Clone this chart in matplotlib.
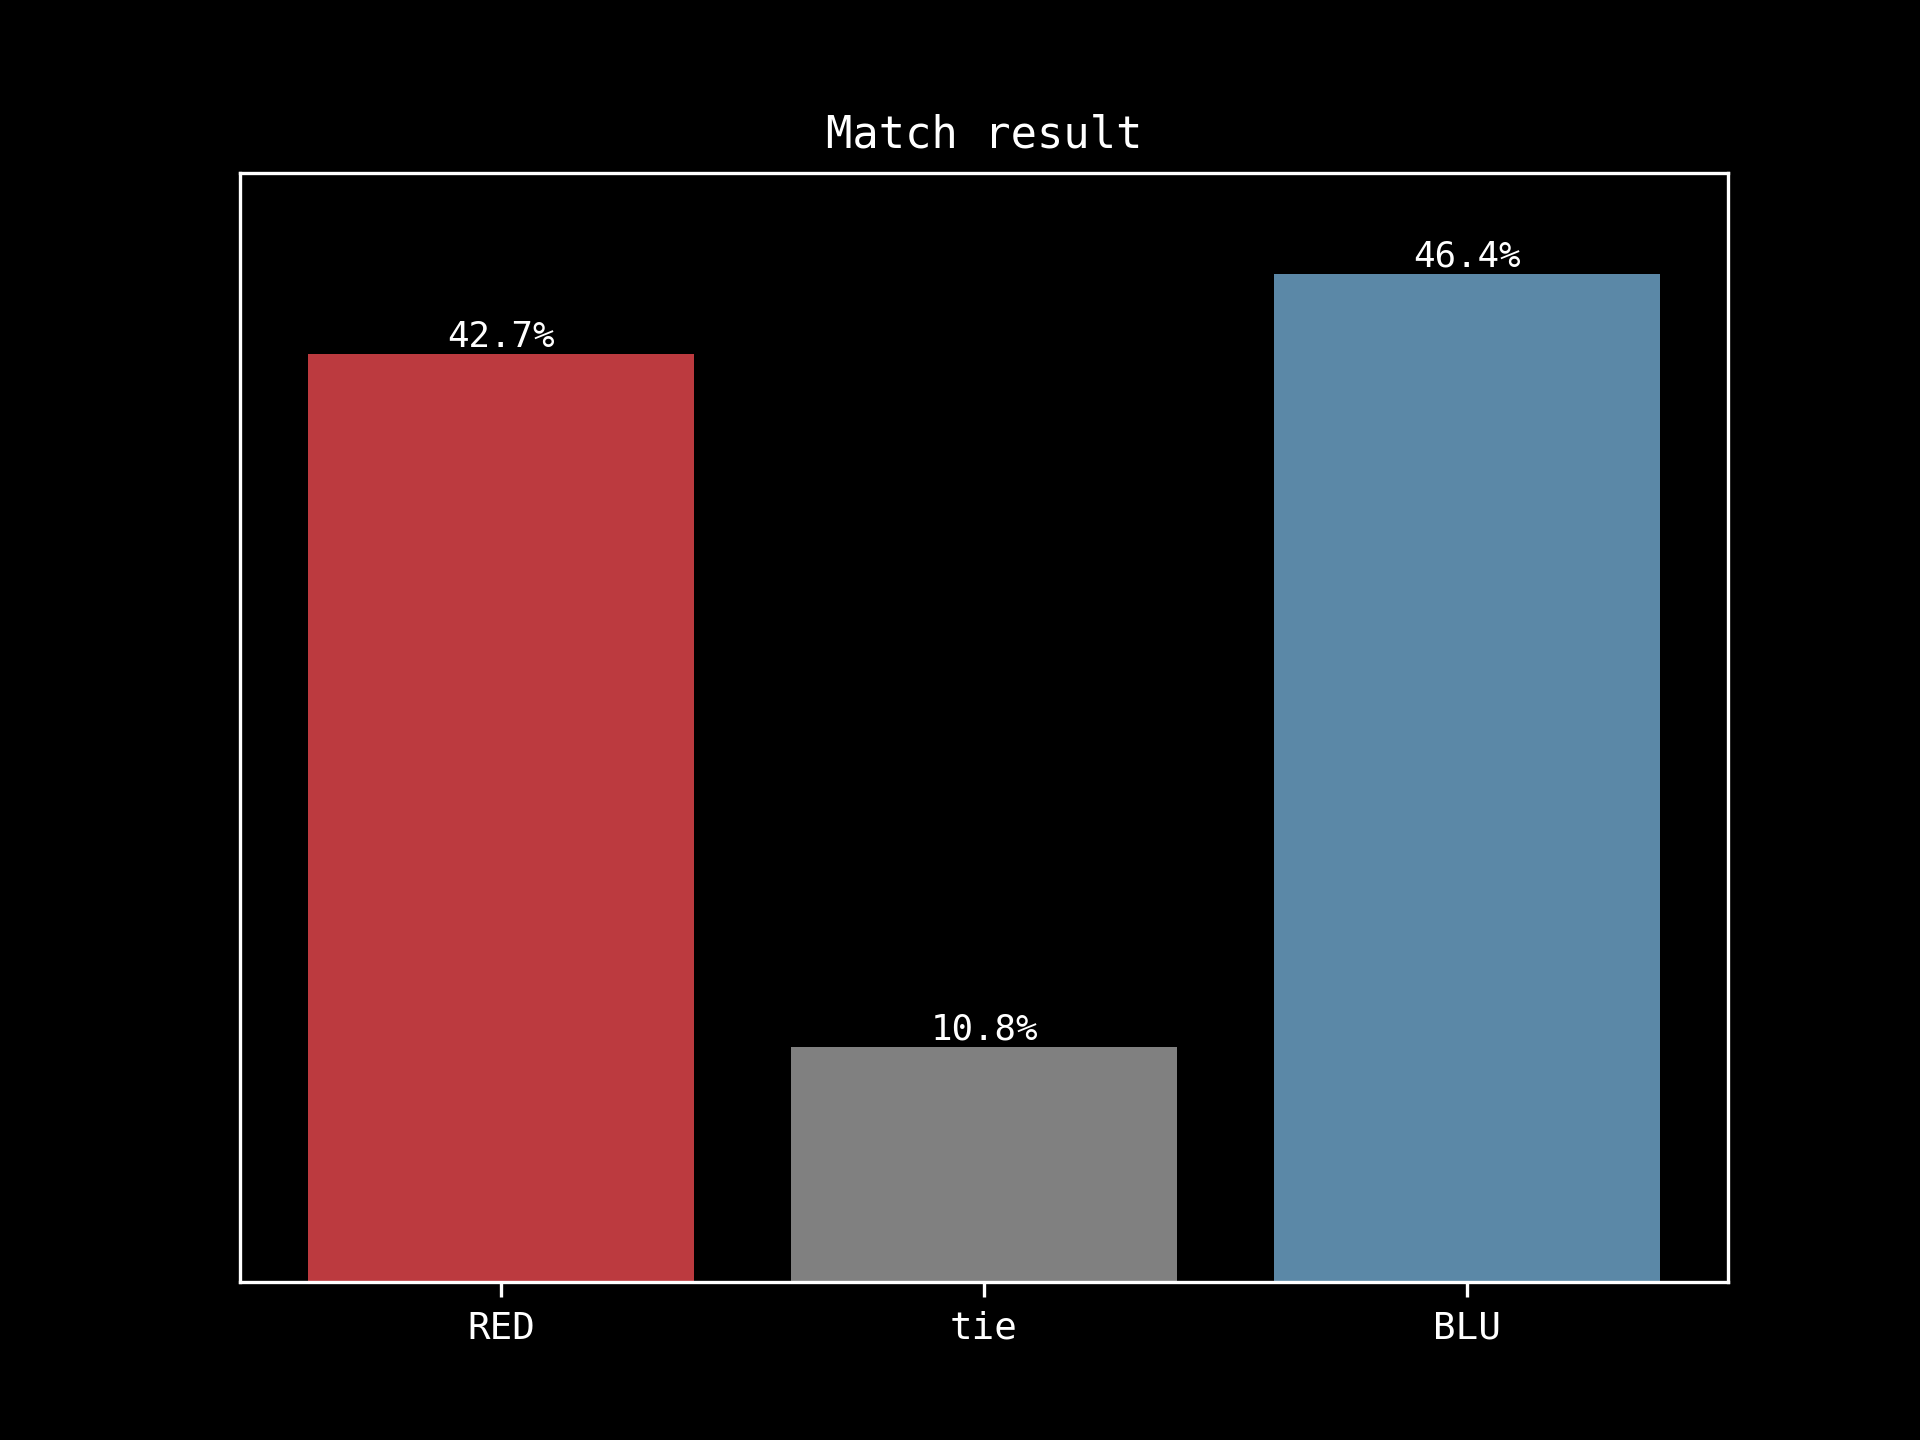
import matplotlib
matplotlib.use("Agg")
import matplotlib.pyplot as plt

categories = ["RED", "tie", "BLU"]
values = [42.7, 10.8, 46.4]
colors = ["#BC3A3F", "#808080", "#5B88A7"]

plt.rcParams['font.family'] = ['DejaVu Sans Mono']
fig, ax = plt.subplots(figsize=(6.4, 4.8), dpi=300)
fig.patch.set_facecolor("black")
ax.set_facecolor("black")

bars = ax.bar(categories, values, color=colors, width=0.8)
for b, v in zip(bars, values):
    ax.text(b.get_x() + b.get_width() / 2, b.get_height(), f"{v:.1f}%",
            ha="center", va="bottom", color="white", fontsize=8.6)

ax.set_ylim(0, max(values) * 1.1)
ax.set_yticks([])
ax.tick_params(axis="x", colors="white", labelsize=9)
for s in ax.spines.values():
    s.set_color("white")
ax.set_title("Match result", color="white", fontsize=10.5)

fig.savefig("out.png", dpi=300, facecolor="black")
